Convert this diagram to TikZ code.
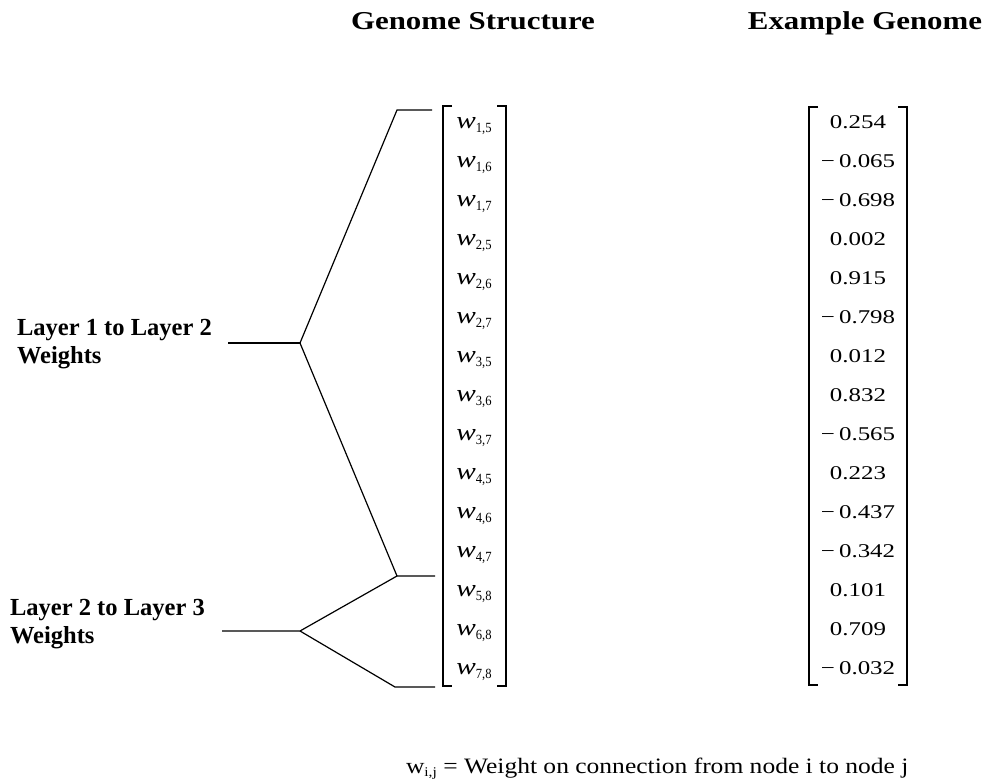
\documentclass[tikz,border=0pt]{standalone}
\usepackage{fontspec}
\usepackage{graphicx}
\setmainfont{Liberation Serif}
\newcommand\wij[1]{\scalebox{1.22}[1]{\fontsize{18}{18}\selectfont\itshape w}\raisebox{-3pt}{\scalebox{0.9}[1]{\fontsize{10.5}{10.5}\selectfont #1}}}
\newcommand\hdr[1]{\scalebox{1.2}[1]{\fontsize{19.3}{22}\selectfont\bfseries #1}}
\newcommand\lbl[1]{\fontsize{18.4}{21}\selectfont\bfseries #1}
\newcommand\num[1]{\scalebox{1.28}[1]{\fontsize{14.6}{17}\selectfont #1}}
\begin{document}
\begin{tikzpicture}[x=0.75pt,y=-0.75pt,
  ln/.style={line width=0.9pt,black},
  txt/.style={inner sep=0pt,outer sep=0pt}]
\useasboundingbox (0,0) rectangle (989,782);
% headers
\node[txt,anchor=base] (hGS) at (473,29) {\hdr{Genome Structure}};
\node[txt,anchor=base] (hEG) at (865,29) {\hdr{Example Genome}};
% matrix entries
\foreach \i/\s/\v [count=\k from 0] in {1/{1,5}/0.254,2/{1,6}/{−\,0.065},3/{1,7}/{−\,0.698},4/{2,5}/0.002,5/{2,6}/0.915,6/{2,7}/{−\,0.798},7/{3,5}/0.012,8/{3,6}/0.832,9/{3,7}/{−\,0.565},10/{4,5}/0.223,11/{4,6}/{−\,0.437},12/{4,7}/{−\,0.342},13/{5,8}/0.101,14/{6,8}/0.709,15/{7,8}/{−\,0.032}}{
  \node[txt,anchor=base] (w\i) at (474,128+39.07*\k) {\wij{\s}};
  \node[txt,anchor=base] (v\i) at (858,128+39.07*\k) {\num{\v}};
}
% brackets
\draw[ln] (452,106) -- (443,106) -- (443,686) -- (452,686);
\draw[ln] (497,106) -- (506,106) -- (506,686) -- (497,686);
\draw[ln] (818,107) -- (809,107) -- (809,685) -- (818,685);
\draw[ln] (898,107) -- (907,107) -- (907,685) -- (898,685);
% tree
\coordinate (a1) at (432,110);
\coordinate (b1) at (397,110);
\coordinate (j1) at (300,343);
\coordinate (s1) at (228,343);
\coordinate (b2) at (397,576);
\coordinate (a2) at (435,576);
\coordinate (j2) at (300,631);
\coordinate (s2) at (222,631);
\coordinate (b3) at (395,687);
\coordinate (a3) at (435,687);
\draw[ln] (a1) -- (b1) -- (j1) -- (b2) -- (a2);
\draw[ln] (s1) -- (j1);
\draw[ln] (s2) -- (j2) -- (b2);
\draw[ln] (j2) -- (b3) -- (a3);
% labels
\node[txt,anchor=base west] (L1a) at (17,335) {\lbl{Layer 1 to Layer 2}};
\node[txt,anchor=base west] (L1b) at (17,363) {\lbl{Weights}};
\node[txt,anchor=base west] (L2a) at (10,615) {\lbl{Layer 2 to Layer 3}};
\node[txt,anchor=base west] (L2b) at (10,643) {\lbl{Weights}};
% legend
\node[txt,anchor=base west] (leg) at (406,773) {\scalebox{1.16}[1]{\fontsize{16.5}{18}\selectfont w\raisebox{-2.5pt}{\fontsize{10}{10}\selectfont i,j} = Weight on connection from node i to node j}};
\end{tikzpicture}
\end{document}
